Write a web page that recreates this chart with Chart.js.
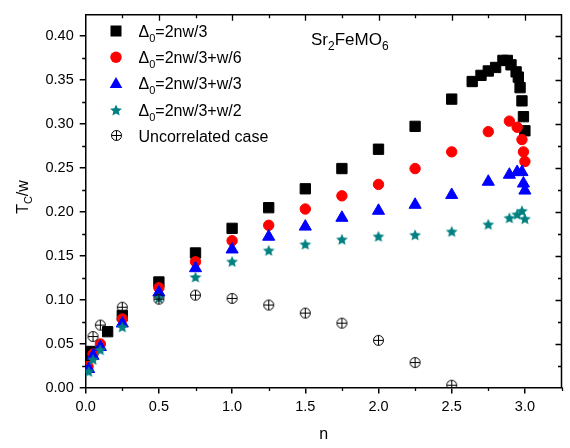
<!DOCTYPE html>
<html><head><meta charset="utf-8">
<script src="https://cdn.jsdelivr.net/npm/chart.js@4.4.0/dist/chart.umd.min.js"></script>
<style>html,body{margin:0;padding:0;background:#fff}#wrap{width:570px;height:448px;position:relative}</style>
</head><body><div id="wrap"><canvas id="c" width="570" height="448"></canvas></div>
<script>
// ---------- data ----------
const seriesLabels = ['Δ0=2nw/3', 'Δ0=2nw/3+w/6', 'Δ0=2nw/3+w/3', 'Δ0=2nw/3+w/2', 'Uncorrelated case'];

const n_sq  = [0.02, 0.04, 0.15, 0.25, 0.5, 0.75, 1.0, 1.25, 1.5, 1.75, 2.0, 2.25, 2.5, 2.64, 2.7, 2.75, 2.8, 2.85, 2.88, 2.905, 2.94, 2.955, 2.967, 2.98, 2.99, 3.0];
const tc_sq = [0.036, 0.041, 0.0635, 0.082, 0.120, 0.153, 0.181, 0.2045, 0.226, 0.249, 0.271, 0.297, 0.328, 0.348, 0.355, 0.360, 0.364, 0.372, 0.372, 0.367, 0.359, 0.353, 0.341, 0.326, 0.308, 0.292];

const n_ci  = [0.016, 0.05, 0.1, 0.25, 0.5, 0.75, 1.0, 1.25, 1.5, 1.75, 2.0, 2.25, 2.5, 2.75, 2.894, 2.947, 2.98, 2.99, 3.0];
const tc_ci = [0.0236, 0.038, 0.0495, 0.078, 0.1135, 0.143, 0.167, 0.1845, 0.203, 0.218, 0.231, 0.249, 0.268, 0.291, 0.303, 0.296, 0.282, 0.268, 0.257];

const n_tr  = [0.02, 0.05, 0.1, 0.25, 0.5, 0.75, 1.0, 1.25, 1.5, 1.75, 2.0, 2.25, 2.5, 2.75, 2.894, 2.947, 2.98, 2.99, 3.0];
const tc_tr = [0.021, 0.036, 0.046, 0.0728, 0.108, 0.1357, 0.157, 0.1715, 0.183, 0.193, 0.201, 0.2078, 0.219, 0.234, 0.242, 0.245, 0.245, 0.232, 0.224];

const n_st  = [0.02, 0.05, 0.1, 0.25, 0.5, 0.75, 1.0, 1.25, 1.5, 1.75, 2.0, 2.25, 2.5, 2.75, 2.894, 2.947, 2.98, 3.0];
const tc_st = [0.0184, 0.032, 0.043, 0.069, 0.102, 0.1257, 0.1434, 0.156, 0.163, 0.1686, 0.172, 0.1737, 0.1775, 0.1856, 0.193, 0.197, 0.201, 0.192];

const n_un  = [0.05, 0.1, 0.25, 0.5, 0.75, 1.0, 1.25, 1.5, 1.75, 2.0, 2.25, 2.5];
const tc_un = [0.058, 0.071, 0.0913, 0.1005, 0.105, 0.1013, 0.0938, 0.0846, 0.0732, 0.0536, 0.0284, 0.0026];

const xTickStep = 0.5, yTickStep = 0.05;
const xMinorStep = 0.25, yMinorStep = 0.025;

// ---------- helpers ----------
const FONT = '"Liberation Sans", Arial, Helvetica, sans-serif';
function pts(xs, ys) { return xs.map((v, i) => ({ x: v, y: ys[i] })); }

function starImg(color, R) {
  const s = 14, c = document.createElement('canvas'); c.width = c.height = s;
  const g = c.getContext('2d'); g.translate(s / 2, s / 2 + 0.6);
  g.beginPath();
  for (let i = 0; i < 10; i++) {
    const r = i % 2 ? R * 0.45 : R; const a = -Math.PI / 2 + i * Math.PI / 5;
    g.lineTo(r * Math.cos(a), r * Math.sin(a));
  }
  g.closePath(); g.fillStyle = color; g.fill();
  return c;
}
function oplusImg() {
  const s = 13, c = document.createElement('canvas'); c.width = c.height = s;
  const g = c.getContext('2d'); g.strokeStyle = '#000'; g.lineWidth = 1;
  g.beginPath(); g.arc(6.5, 6.5, 5, 0, Math.PI * 2); g.stroke();
  g.beginPath(); g.moveTo(1.5, 6.5); g.lineTo(11.5, 6.5); g.moveTo(6.5, 1.5); g.lineTo(6.5, 11.5); g.stroke();
  return c;
}
const STAR = starImg('#008080', 6.2);
const OPLUS = oplusImg();

// draw text with subscripts: segs = [[text, isSub], ...]
function richText(ctx, segs, x, y, size, subSize, subDrop) {
  let cx = x;
  for (const [t, sub] of segs) {
    ctx.font = (sub ? subSize : size) + 'px ' + FONT;
    ctx.fillText(t, cx, y + (sub ? subDrop : 0));
    cx += ctx.measureText(t).width;
  }
  return cx - x;
}
function richWidth(ctx, segs, size, subSize) {
  let w = 0;
  for (const [t, sub] of segs) { ctx.font = (sub ? subSize : size) + 'px ' + FONT; w += ctx.measureText(t).width; }
  return w;
}
function labelSegs(s) { // 'Δ0...' -> Δ + subscript 0
  if (s.startsWith('Δ0')) return [['Δ', 0], ['0', 1], [s.slice(2), 0]];
  return [[s, 0]];
}

const datasets = [
  { label: seriesLabels[0], data: pts(n_sq, tc_sq), pointStyle: 'rect', pointRadius: 7.3, pointBorderWidth: 1, backgroundColor: '#000', borderColor: '#000', order: 4 },
  { label: seriesLabels[1], data: pts(n_ci, tc_ci), pointStyle: 'circle', pointRadius: 5.2, pointBorderWidth: 1, backgroundColor: '#ff0000', borderColor: '#ff0000', order: 3 },
  { label: seriesLabels[2], data: pts(n_tr, tc_tr), pointStyle: 'triangle', pointRadius: 7, pointBorderWidth: 1, backgroundColor: '#0000ff', borderColor: '#0000ff', order: 2 },
  { label: seriesLabels[3], data: pts(n_st, tc_st), pointStyle: STAR, pointRadius: 6, backgroundColor: '#008080', borderColor: '#008080', order: 1 },
  { label: seriesLabels[4], data: pts(n_un, tc_un), pointStyle: OPLUS, pointRadius: 6, backgroundColor: 'rgba(0,0,0,0)', borderColor: '#000', order: 0 },
];

// ---------- plugins ----------
const frameTicks = {
  id: 'frameTicks',
  afterDraw(chart) {
    const { ctx, chartArea: a, scales: { x, y } } = chart;
    ctx.save();
    ctx.strokeStyle = '#000'; ctx.lineWidth = 1.5;
    ctx.beginPath();
    ctx.moveTo(a.left, a.top); ctx.lineTo(a.right, a.top); ctx.lineTo(a.right, a.bottom);
    ctx.stroke();
    ctx.lineWidth = 1.3;
    ctx.beginPath();
    for (let k = 0; k * xMinorStep <= x.max + 1e-9; k++) {
      const v = k * xMinorStep; const px = Math.round(x.getPixelForValue(v)) + 0.5;
      const major = (k % 2 === 0);
      if (!major) { ctx.moveTo(px, a.bottom); ctx.lineTo(px, a.bottom + 3.5); }
      if (v > 0 && v < x.max - 1e-9) { ctx.moveTo(px, a.top); ctx.lineTo(px, a.top + (major ? 6 : 3.5)); }
    }
    for (let k = 0; k * yMinorStep <= y.max + 1e-9; k++) {
      const v = k * yMinorStep; const py = Math.round(y.getPixelForValue(v)) + 0.5;
      const major = (k % 2 === 0);
      if (!major) { ctx.moveTo(a.left, py); ctx.lineTo(a.left - 3.5, py); }
      if (v > 0) { ctx.moveTo(a.right, py); ctx.lineTo(a.right - (major ? 6 : 3.5), py); }
    }
    ctx.stroke();

    // y-axis title T_C/w
    ctx.fillStyle = '#000'; ctx.textBaseline = 'alphabetic';
    const ySegs = [['T', 0], ['C', 1], ['/w', 0]];
    const w = richWidth(ctx, ySegs, 16, 11);
    ctx.save(); ctx.translate(28, 197); ctx.rotate(-Math.PI / 2);
    richText(ctx, ySegs, -w / 2, 0, 16, 11, 4);
    ctx.restore();

    // compound label
    richText(ctx, [['Sr', 0], ['2', 1], ['FeMO', 0], ['6', 1]], 311, 45, 17, 12, 5);

    // legend
    const lx = 116, ly0 = 31, dy = 26.2;
    chart.data.datasets.forEach((ds, i) => {
      const yy = ly0 + i * dy;
      ctx.fillStyle = ds.backgroundColor; ctx.strokeStyle = ds.borderColor; ctx.lineWidth = 1;
      if (ds.pointStyle === 'rect') {
        ctx.fillRect(lx - 5.5, yy - 5.5, 11, 11);
      } else if (ds.pointStyle === 'circle') {
        ctx.beginPath(); ctx.arc(lx, yy, 5.7, 0, Math.PI * 2); ctx.fill();
      } else if (ds.pointStyle === 'triangle') {
        ctx.beginPath(); ctx.moveTo(lx, yy - 6.5); ctx.lineTo(lx + 6.3, yy + 4.5); ctx.lineTo(lx - 6.3, yy + 4.5); ctx.closePath(); ctx.fill();
      } else {
        const im = ds.pointStyle; ctx.drawImage(im, Math.round(lx - im.width / 2), Math.round(yy - im.height / 2));
      }
      ctx.fillStyle = '#000';
      richText(ctx, labelSegs(ds.label), 138.5, yy + 6, 16, 11, 5);
    });
    ctx.restore();
  }
};

new Chart(document.getElementById('c'), {
  type: 'scatter',
  data: { datasets },
  options: {
    responsive: false, animation: false, devicePixelRatio: 1,
    layout: { padding: { left: 0, right: 8.5, top: 4.5, bottom: 0 } },
    plugins: { legend: { display: false }, tooltip: { enabled: false } },
    scales: {
      x: {
        type: 'linear', min: 0, max: 3.25,
        afterFit(s) { s.height = 60.5; },
        grid: { display: true, drawOnChartArea: false, drawTicks: true, tickLength: 6, color: '#000', lineWidth: 1.5 },
        border: { display: true, color: '#000', width: 1.5 },
        ticks: { stepSize: xTickStep, includeBounds: false, autoSkip: false, maxRotation: 0, padding: 5, color: '#000',
          font: { family: FONT, size: 14.5 }, callback: v => Number(v).toFixed(1) },
        title: { display: true, text: 'n', color: '#000', font: { family: FONT, size: 16 }, padding: { top: 0, bottom: 4 } }
      },
      y: {
        type: 'linear', min: 0, max: 0.424,
        afterFit(s) { s.width = 85.7; },
        grid: { display: true, drawOnChartArea: false, drawTicks: true, tickLength: 6, color: '#000', lineWidth: 1.5 },
        border: { display: true, color: '#000', width: 1.5 },
        ticks: { stepSize: yTickStep, includeBounds: false, autoSkip: false, padding: 6, color: '#000',
          font: { family: FONT, size: 14.5 }, callback: v => Number(v).toFixed(2) }
      }
    }
  },
  plugins: [frameTicks]
});
</script>
</body></html>
